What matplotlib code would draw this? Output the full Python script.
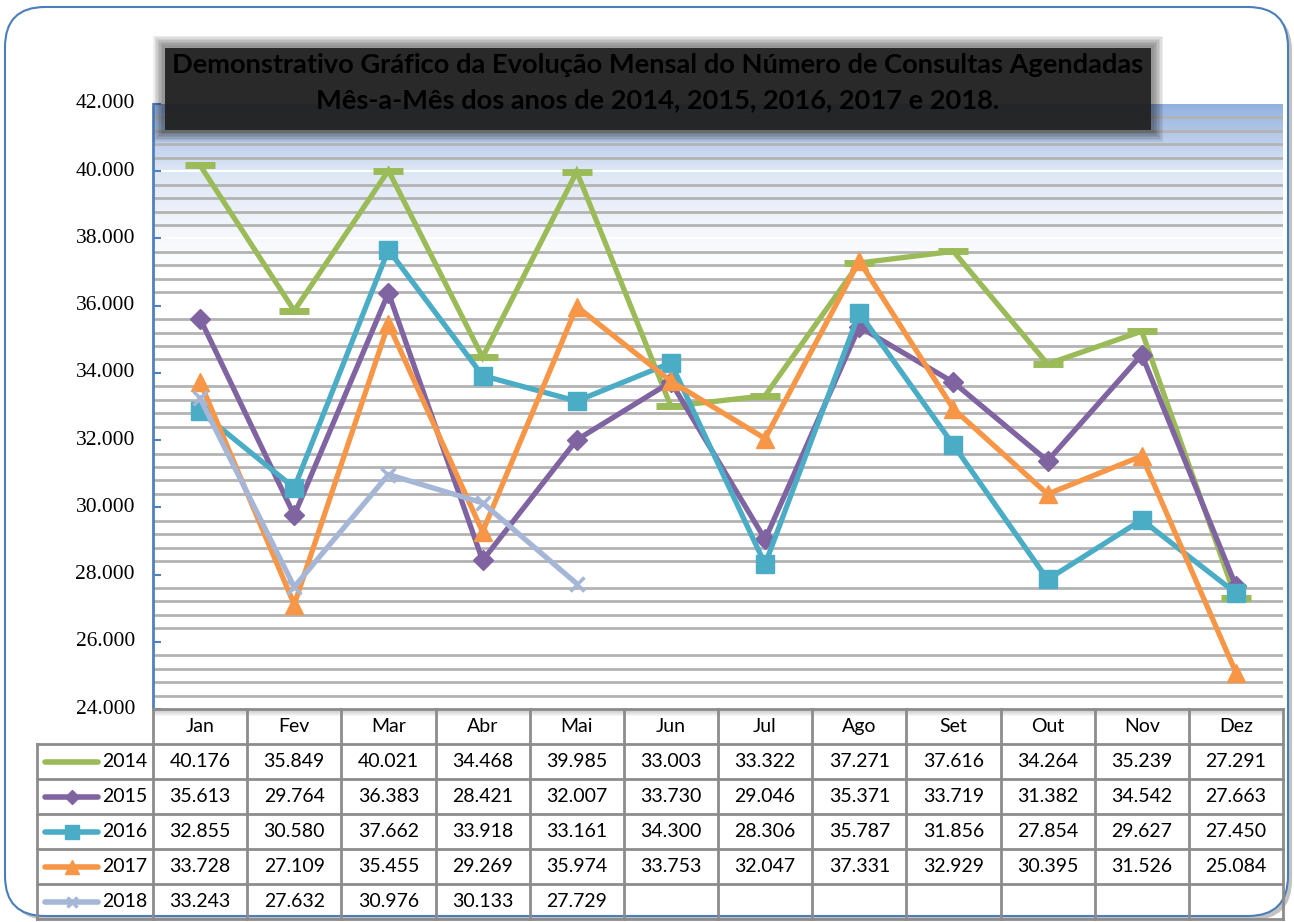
import numpy as np
import matplotlib
matplotlib.use("Agg")
import matplotlib.pyplot as plt
from matplotlib.patches import FancyBboxPatch, Rectangle
from matplotlib.colors import LinearSegmentedColormap

# dados
meses = ["Jan", "Fev", "Mar", "Abr", "Mai", "Jun", "Jul", "Ago", "Set", "Out", "Nov", "Dez"]
anos = ["2014", "2015", "2016", "2017", "2018"]
v2014 = [40176, 35849, 40021, 34468, 39985, 33003, 33322, 37271, 37616, 34264, 35239, 27291]
v2015 = [35613, 29764, 36383, 28421, 32007, 33730, 29046, 35371, 33719, 31382, 34542, 27663]
v2016 = [32855, 30580, 37662, 33918, 33161, 34300, 28306, 35787, 31856, 27854, 29627, 27450]
v2017 = [33728, 27109, 35455, 29269, 35974, 33753, 32047, 37331, 32929, 30395, 31526, 25084]
v2018 = [33243, 27632, 30976, 30133, 27729]
series = [v2014, v2015, v2016, v2017, v2018]
yticks = list(range(24000, 42001, 2000))
ylabels = [f"{v // 1000}.000" for v in yticks]

cores = ["#9bbb59", "#8064a2", "#4bacc6", "#f79646", "#a5b6d6"]
marcadores = ["_", "D", "s", "^", "x"]
msize = [22, 10, 13, 13, 10]
mew = [5, 1, 1, 1, 2.5]

W, H = 1294, 922
fig = plt.figure(figsize=(W / 100, H / 100), dpi=100)

def fx(px):
    return px / W

def fy(py):
    return 1 - py / H

# moldura arredondada com sombra
bg = fig.add_axes([0, 0, 1, 1])
bg.set_xlim(0, W)
bg.set_ylim(H, 0)
bg.axis("off")
bg.add_patch(FancyBboxPatch((9, 11), 1283, 909, boxstyle="round,pad=0,rounding_size=40",
                            fc="#9a9a9a", ec="none", alpha=0.6))
bg.add_patch(FancyBboxPatch((5, 7), 1283, 909, boxstyle="round,pad=0,rounding_size=40",
                            fc="white", ec="#4a7ebb", lw=1.5))

# eixo principal
L, R, T, B = 153, 1283, 104, 709
ax = fig.add_axes([fx(L), fy(B), fx(R - L), (B - T) / H])
ax.set_xlim(0, 12)
ax.set_ylim(24000, 42000)

# fundo em degradê
grad = LinearSegmentedColormap.from_list(
    "g", [(0, "#ffffff"), (0.72, "#ffffff"), (0.78, "#f6f8fc"), (0.89, "#dde6f5"), (1, "#93b1df")])
ax.imshow(np.linspace(0, 1, 512).reshape(-1, 1), cmap=grad, aspect="auto",
          extent=[0, 12, 24000, 42000], origin="lower", zorder=0)

for y in np.arange(24400, 42000, 400):
    if y % 2000 == 0:
        ax.axhline(y, color="white", lw=1.5, zorder=1)
    else:
        ax.axhline(y, color="#b3b3b3", lw=2, zorder=1)

x = np.arange(12) + 0.5
for i, s in enumerate(series):
    ax.plot(x[:len(s)], s, color=cores[i], lw=3.8, marker=marcadores[i], ms=msize[i],
            mew=mew[i], mec=cores[i], mfc=cores[i], zorder=3 + i * 0.1,
            solid_joinstyle="miter")

ax.set_yticks(yticks)
ax.set_yticklabels([])
ax.tick_params(axis="y", direction="in", length=6, width=1.5, color="#4f81bd")
# rótulos do eixo y em fonte serifada
for v, lab in zip(yticks, ylabels):
    ax.text(-0.016, v, lab, transform=ax.get_yaxis_transform(), ha="right", va="center",
            fontsize=15.5, family=["Liberation Serif", "DejaVu Serif"], clip_on=False)
ax.set_xticks([])
for sp in ["top", "right", "bottom"]:
    ax.spines[sp].set_visible(False)
ax.spines["left"].set_color("#4f81bd")
ax.spines["left"].set_linewidth(2)

# camada superior para título e tabela
top = fig.add_axes([0, 0, 1, 1])
top.set_xlim(0, W)
top.set_ylim(H, 0)
top.axis("off")
top.patch.set_alpha(0)

# título com caixa escura
for k in range(7):
    top.add_patch(Rectangle((162 - k * 1.5, 45 - k * 1.5), 992 + k * 3, 88 + k * 3,
                            fc="#000000", ec="none", alpha=0.07, zorder=10))
top.add_patch(Rectangle((165, 48), 986, 82, fc="#202020", ec="none", alpha=0.92, zorder=11))
top.text(658, 65, "Demonstrativo Gráfico da Evolução Mensal do Número de Consultas Agendadas",
         ha="center", va="center", fontsize=19.6, fontweight="bold", color="black",
         fontfamily="Lato", zorder=12)
top.text(658, 100, "Mês-a-Mês dos anos de 2014, 2015, 2016, 2017 e 2018.",
         ha="center", va="center", fontsize=19.6, fontweight="bold", color="black",
         fontfamily="Lato", zorder=12)

# tabela de dados
cw = (R - L) / 12
rh = 35
ylin = [B + rh * k for k in range(7)]
lc = "#8c8c8c"
for k in range(6):
    top.add_patch(Rectangle((L, B), R - L, 7 - k, fc="#000000", ec="none", alpha=0.035, zorder=2))
top.plot([L, R], [ylin[0], ylin[0]], color=lc, lw=2, zorder=3)
for k in range(1, 7):
    top.plot([37, R], [ylin[k], ylin[k]], color=lc, lw=2, zorder=3)
top.plot([37, 37], [ylin[1], ylin[6]], color=lc, lw=2, zorder=3)
for j in range(13):
    top.plot([L + j * cw, L + j * cw], [ylin[0], ylin[6]], color=lc, lw=2, zorder=3)

fonte = "Lato"
for j, m in enumerate(meses):
    top.text(L + (j + 0.5) * cw, ylin[0] + rh / 2, m, ha="center", va="center",
             fontsize=14, fontfamily=fonte, zorder=4)
for i, s in enumerate(series):
    yc = ylin[i + 1] + rh / 2
    top.plot([45, 98], [yc, yc], color=cores[i], lw=4, solid_capstyle="round", zorder=4)
    if marcadores[i] != "_":
        top.plot([71.5], [yc], marker=marcadores[i], ms=msize[i] * 0.75, color=cores[i],
                 mew=mew[i], zorder=5)
    top.text(102, yc, anos[i], ha="left", va="center", fontsize=14,
             fontfamily=fonte, zorder=4)
    for j, v in enumerate(s):
        top.text(L + (j + 0.5) * cw, yc, f"{v / 1000:.3f}", ha="center", va="center",
                 fontsize=14, fontfamily=fonte, zorder=4)

fig.savefig("out.png", dpi=100)
